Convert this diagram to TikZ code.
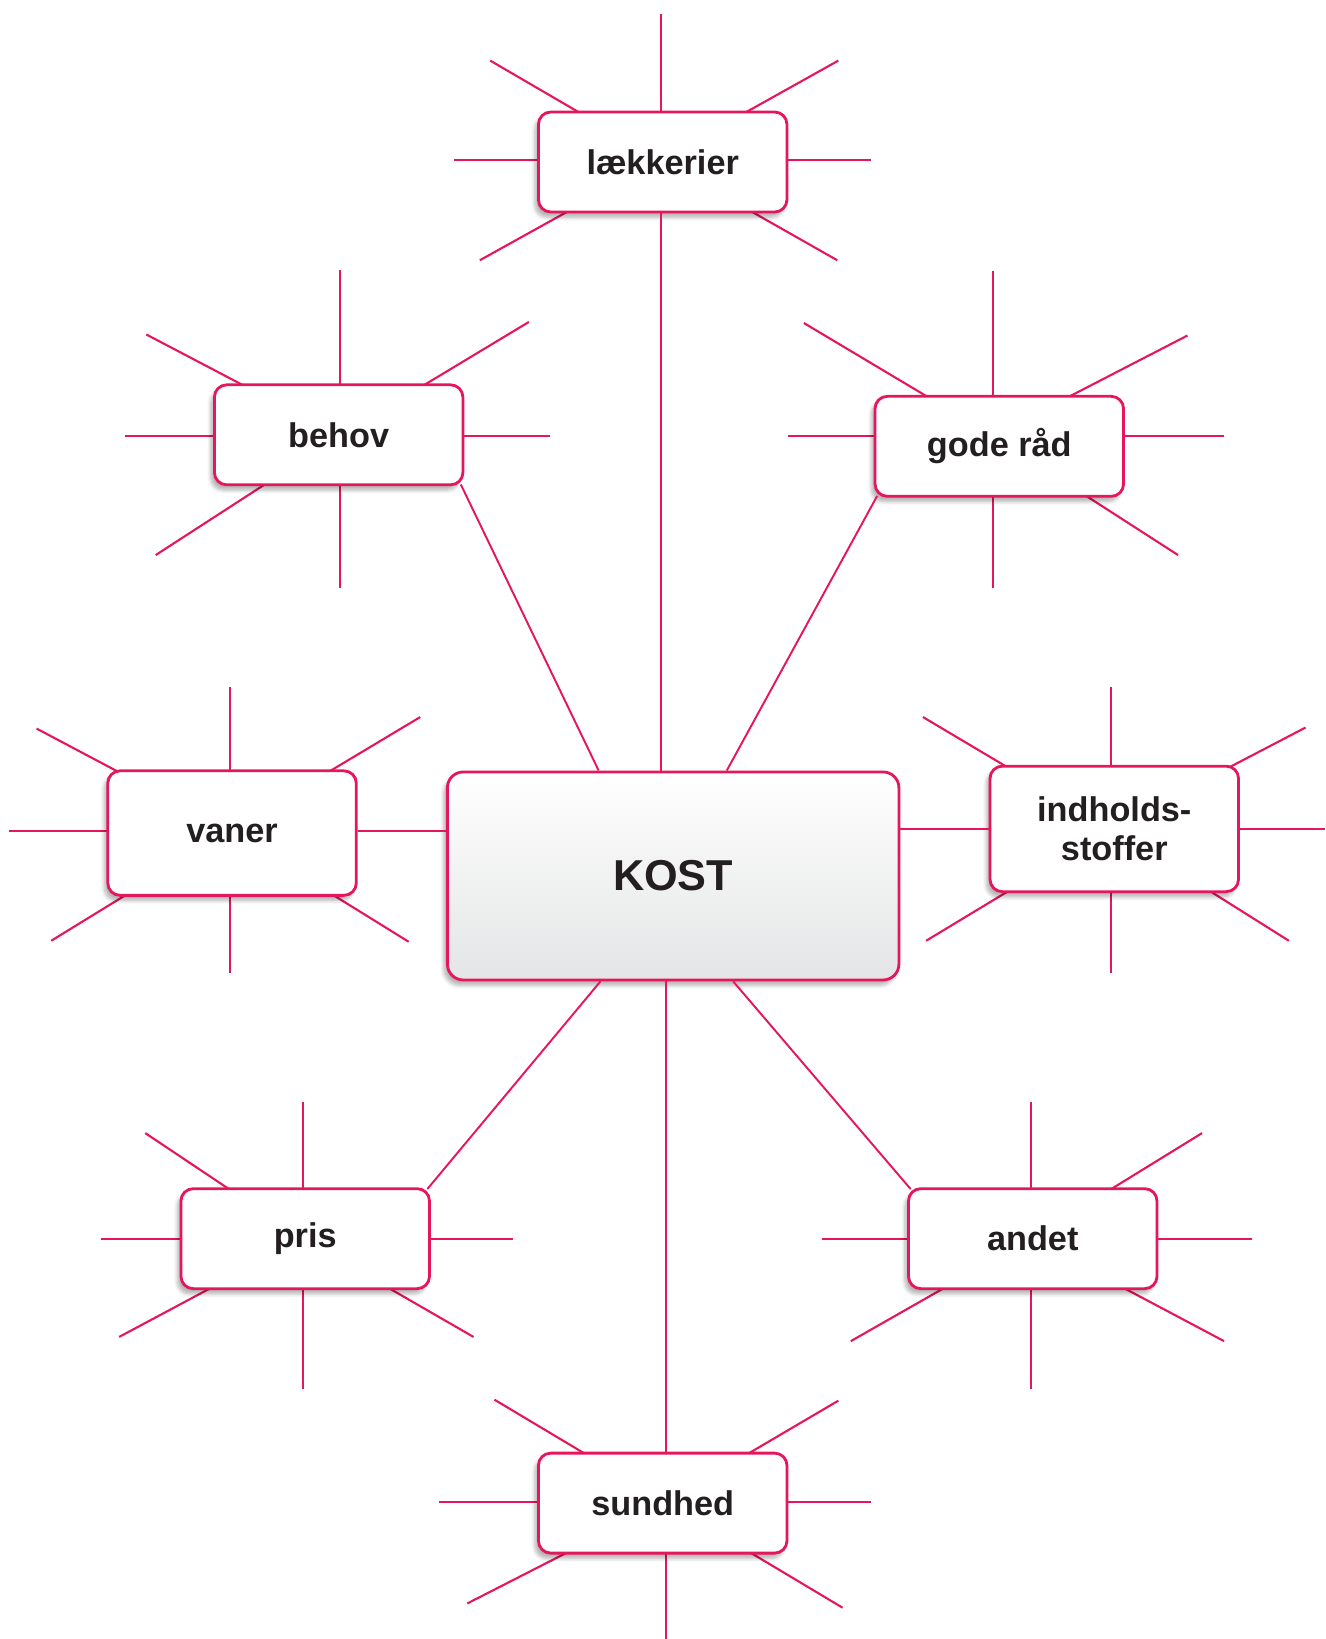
\documentclass[tikz,border=0pt]{standalone}
\usepackage{fontspec}
\setmainfont{Liberation Sans}
\usetikzlibrary{calc,shadows.blur}
\definecolor{kostpink}{RGB}{230,22,90}
\definecolor{kosttext}{RGB}{35,31,32}
\definecolor{kostgray}{RGB}{228,229,230}

\begin{document}
\begin{tikzpicture}[x=0.0209cm,y=-0.0209cm,
    ray/.style={draw=kostpink,line width=1.2pt},
    link/.style={draw=kostpink,line width=1.1pt},
    box/.style={draw=kostpink,line width=1.6pt,fill=white,rounded corners=7pt,
        minimum width=4.97cm,minimum height=2cm,text=kosttext,align=center,
        font=\fontsize{19.5}{22}\selectfont\bfseries,
        blur shadow={shadow xshift=-2pt,shadow yshift=-3pt,shadow opacity=30,shadow blur steps=6}}]
    \useasboundingbox (0,0) rectangle (1268,1568);

    % lækkerier
    \coordinate (lk-c) at (632,153);
    \foreach \x/\y [count=\i] in {632/13,802/58,833/153,801/249,459/249,434/153,469/58} {
        \coordinate (lk-\i) at (\x,\y);
        \draw[ray] (lk-c) -- (lk-\i);
    }
    % behov
    \coordinate (behov-c) at (325,417);
    \foreach \x/\y [count=\i] in {325/258,506/308,526/417,325/563,149/531,120/417,140/320} {
        \coordinate (behov-\i) at (\x,\y);
        \draw[ray] (behov-c) -- (behov-\i);
    }
    % gode råd
    \coordinate (gode-c) at (950,417);
    \foreach \x/\y [count=\i] in {950/259,1136/321,1171/417,1127/531,950/563,754/417,769/309} {
        \coordinate (gode-\i) at (\x,\y);
        \draw[ray] (gode-c) -- (gode-\i);
    }
    % vaner
    \coordinate (vaner-c) at (220,795);
    \foreach \x/\y [count=\i] in {220/657,402/686,391/901,220/931,49/900,9/795,35/697} {
        \coordinate (vaner-\i) at (\x,\y);
        \draw[ray] (vaner-c) -- (vaner-\i);
    }
    % indholdsstoffer
    \coordinate (indh-c) at (1063,793);
    \foreach \x/\y [count=\i] in {1063/657,1249/696,1268/793,1233/900,1063/931,886/900,883/686} {
        \coordinate (indh-\i) at (\x,\y);
        \draw[ray] (indh-c) -- (indh-\i);
    }
    % pris
    \coordinate (pris-c) at (290,1185);
    \foreach \x/\y [count=\i] in {290/1054,491/1185,453/1279,290/1329,114/1279,97/1185,139/1084} {
        \coordinate (pris-\i) at (\x,\y);
        \draw[ray] (pris-c) -- (pris-\i);
    }
    % andet
    \coordinate (andet-c) at (986,1185);
    \foreach \x/\y [count=\i] in {986/1054,1150/1084,1198/1185,1171/1283,986/1329,814/1283,786/1185} {
        \coordinate (andet-\i) at (\x,\y);
        \draw[ray] (andet-c) -- (andet-\i);
    }
    % sundhed
    \coordinate (sund-c) at (637,1437);
    \foreach \x/\y [count=\i] in {802/1340,833/1437,806/1538,637/1568,447/1534,420/1437,473/1339} {
        \coordinate (sund-\i) at (\x,\y);
        \draw[ray] (sund-c) -- (sund-\i);
    }

    % boxes
    \node[box] (lk) at (634,155) {lækkerier};
    \node[box] (behov) at (324,416) {behov};
    \node[box] (gode) at (956,427) {gode råd};
    \node[box,minimum height=2.49cm] (vaner) at (222,797) {vaner};
    \node[box,minimum height=2.51cm] (indh) at (1066,793) {indholds-\\stoffer};
    \node[box] (pris) at (292,1185) {pris};
    \node[box] (andet) at (988,1185) {andet};
    \node[box] (sund) at (634,1438) {sundhed};
    \node[box,minimum width=9.03cm,minimum height=4.16cm,rounded corners=9pt,
        top color=white,bottom color=kostgray,
        font=\fontsize{24.6}{28}\selectfont\bfseries] (kost) at (644,838) {KOST};

    % links to KOST
    \draw[link] (lk-c |- lk.south) -- (lk-c |- kost.north);
    \draw[link] ([xshift=-2pt,yshift=1pt]behov.south east) -- ($(kost.north west)!0.336!(kost.north east)$);
    \draw[link] ([xshift=2pt,yshift=1pt]gode.south west) -- ($(kost.north west)!0.618!(kost.north east)$);
    \draw[link] (vaner-c -| vaner.east) -- (vaner-c -| kost.west);
    \draw[link] (indh.west) -- (indh.west -| kost.east);
    \draw[link] ([xshift=-2pt,yshift=-1pt]pris.north east) -- ($(kost.south west)!0.34!(kost.south east)$);
    \draw[link] ([xshift=2pt,yshift=-1pt]andet.north west) -- ($(kost.south west)!0.632!(kost.south east)$);
    \draw[link] (sund-c |- sund.north) -- (sund-c |- kost.south);
\end{tikzpicture}
\end{document}
